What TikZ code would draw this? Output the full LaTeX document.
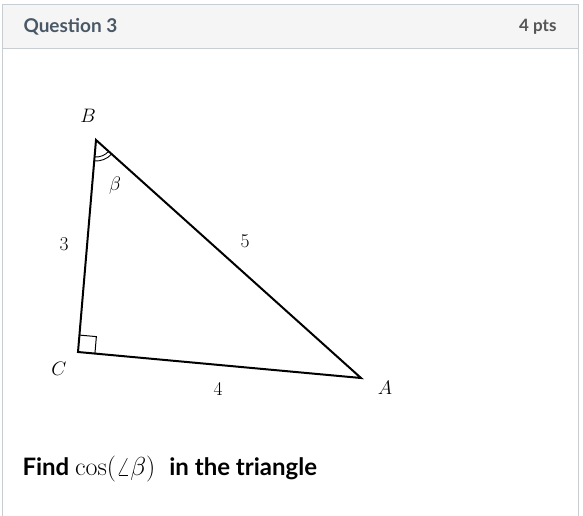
\documentclass[tikz,border=0pt]{standalone}
\usepackage{fix-cm}
\usepackage{amsmath}
\usepackage[no-math]{fontspec}
\setmainfont{Lato}
\usetikzlibrary{calc}
\definecolor{hdrfill}{HTML}{F5F5F5}
\definecolor{hdrline}{HTML}{C7CDD1}
\definecolor{qtitle}{HTML}{4A5866}
\definecolor{ptsc}{HTML}{555555}
\tikzset{
  tri/.style={line width=2pt, line join=miter},
  lbl/.style={font=\fontsize{19.5}{22}\selectfont},
  box/.style={draw=hdrline, line width=1pt}
}
\begin{document}
\begin{tikzpicture}[x=1pt,y=-1pt]
\useasboundingbox (0,0) rectangle (583,516);
\fill[white] (0,0) rectangle (583,516);
\fill[hdrfill] (2.5,4.5) rectangle (578.5,49);
\draw[box] (2.5,516) -- (2.5,4.5) -- (578.5,4.5) -- (578.5,516);
\draw[box] (2.5,49) -- (578.5,49);
\node[anchor=west, text=qtitle, font=\fontsize{19}{22}\selectfont\bfseries] (qt) at (20,27) {Question 3};
\node[anchor=east, text=ptsc, font=\fontsize{17}{20}\selectfont\bfseries] (pts) at (560,27) {4 pts};
% triangle
\coordinate (B) at (96,140);
\coordinate (C) at (78,352);
\coordinate (A) at (361,378);
\draw[tri] (B) -- (C) -- (A) -- cycle;
% right angle at C
\draw[line width=1pt] ($(C)!17pt!(B)$) -- ($(C)!17pt!(B)+(C)!17pt!(A)-(C)$) -- ($(C)!17pt!(A)$);
% double arc at B
\draw[line width=0.9pt] ($(B)!17pt!(C)$) arc[start angle=-94.9, end angle=-42.6, radius=17pt];
\draw[line width=0.9pt] ($(B)!21pt!(C)$) arc[start angle=-94.9, end angle=-42.6, radius=21pt];
\node[lbl] (lB) at (88,116) {$B$};
\node[lbl] (lC) at (59,369) {$C$};
\node[lbl] (lA) at (385,388) {$A$};
\node[lbl] (l3) at (64,244) {$3$};
\node[lbl] (l5) at (245,241) {$5$};
\node[lbl] (l4) at (218,389) {$4$};
\node[lbl] (lb) at (115,186) {$\beta$};
\node[anchor=west, font=\fontsize{24}{28}\selectfont\bfseries] (q) at (19,469) {Find {\fontsize{26}{30}\selectfont$\cos(\angle\beta)$}\hspace{14pt}in the triangle};
\end{tikzpicture}
\end{document}
